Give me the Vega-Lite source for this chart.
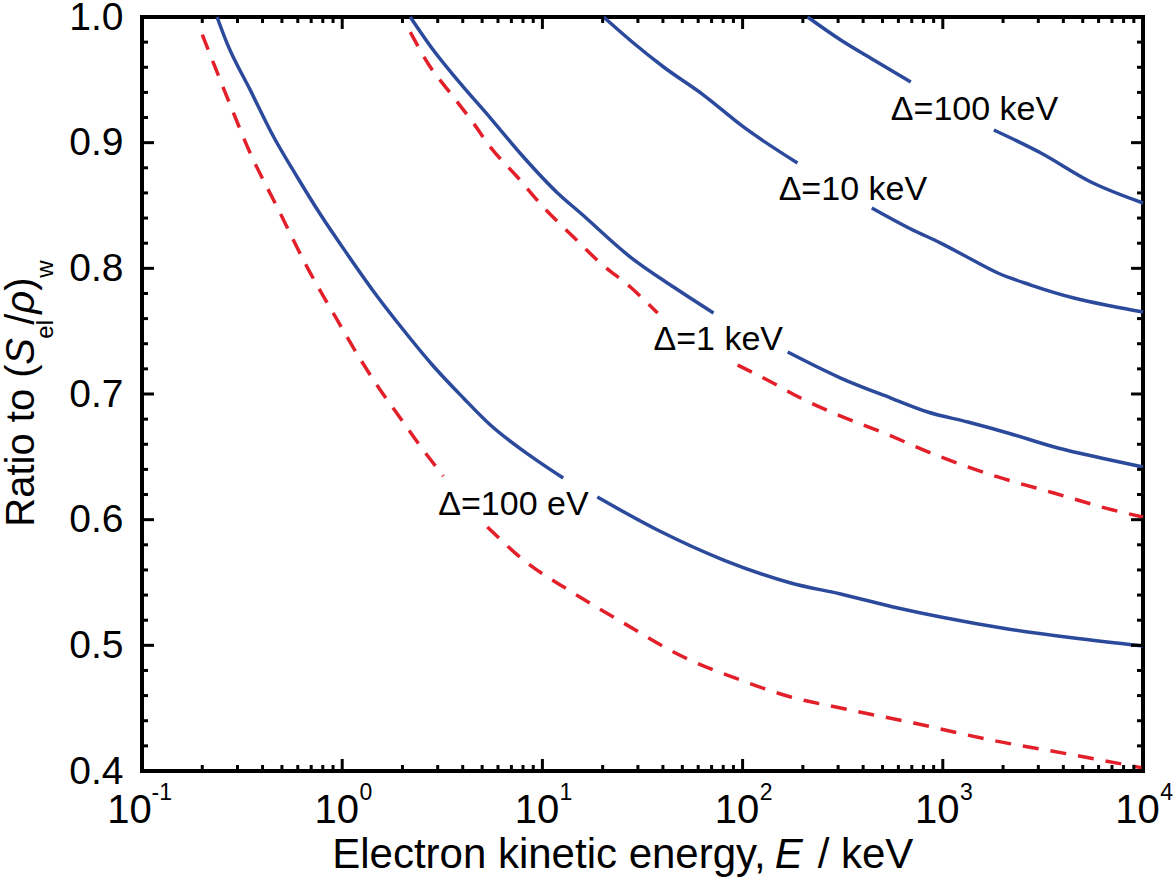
{
  "$schema": "https://vega.github.io/schema/vega-lite/v6.json",
  "width": 1001,
  "height": 754,
  "autosize": {"type": "none"},
  "padding": {"left": 142, "top": 17, "right": 32, "bottom": 108},
  "background": "white",
  "config": {
    "view": {"stroke": "black", "strokeWidth": 4},
    "font": "Liberation Sans",
    "axis": {"grid": false, "domain": false, "ticks": false, "labelColor": "black", "labelFont": "Liberation Sans", "labelOverlap": false, "labelFlush": false}
  },
  "resolve": {"axis": {"x": "independent", "y": "independent"}},
  "datasets": {
    "solid": [
      {"curve": "100 eV", "seg": "a1", "E": 0.237, "R": 1.0},
      {"curve": "100 eV", "seg": "a1", "E": 0.266, "R": 0.979},
      {"curve": "100 eV", "seg": "a1", "E": 0.347, "R": 0.942},
      {"curve": "100 eV", "seg": "a1", "E": 0.452, "R": 0.9053},
      {"curve": "100 eV", "seg": "a1", "E": 0.596, "R": 0.8727},
      {"curve": "100 eV", "seg": "a1", "E": 0.776, "R": 0.8432},
      {"curve": "100 eV", "seg": "a1", "E": 1.059, "R": 0.8114},
      {"curve": "100 eV", "seg": "a1", "E": 1.429, "R": 0.782},
      {"curve": "100 eV", "seg": "a1", "E": 1.95, "R": 0.7541},
      {"curve": "100 eV", "seg": "a1", "E": 2.85, "R": 0.7223},
      {"curve": "100 eV", "seg": "a1", "E": 4.03, "R": 0.6968},
      {"curve": "100 eV", "seg": "a1", "E": 5.5, "R": 0.6753},
      {"curve": "100 eV", "seg": "a1", "E": 8.71, "R": 0.6507},
      {"curve": "100 eV", "seg": "a1", "E": 12.7, "R": 0.6331},
      {"curve": "100 eV", "seg": "a2", "E": 18.8, "R": 0.618},
      {"curve": "100 eV", "seg": "a2", "E": 37.6, "R": 0.5918},
      {"curve": "100 eV", "seg": "a2", "E": 80.4, "R": 0.5679},
      {"curve": "100 eV", "seg": "a2", "E": 174, "R": 0.5496},
      {"curve": "100 eV", "seg": "a2", "E": 309, "R": 0.5408},
      {"curve": "100 eV", "seg": "a2", "E": 596, "R": 0.5297},
      {"curve": "100 eV", "seg": "a2", "E": 977, "R": 0.5225},
      {"curve": "100 eV", "seg": "a2", "E": 2113, "R": 0.513},
      {"curve": "100 eV", "seg": "a2", "E": 4519, "R": 0.5058},
      {"curve": "100 eV", "seg": "a2", "E": 10000, "R": 0.4995},
      {"curve": "1 keV", "seg": "b1", "E": 2.188, "R": 1.0},
      {"curve": "1 keV", "seg": "b1", "E": 2.85, "R": 0.9737},
      {"curve": "1 keV", "seg": "b1", "E": 3.76, "R": 0.9499},
      {"curve": "1 keV", "seg": "b1", "E": 5.5, "R": 0.9196},
      {"curve": "1 keV", "seg": "b1", "E": 8.04, "R": 0.8886},
      {"curve": "1 keV", "seg": "b1", "E": 11.9, "R": 0.86},
      {"curve": "1 keV", "seg": "b1", "E": 15.5, "R": 0.844},
      {"curve": "1 keV", "seg": "b1", "E": 27.5, "R": 0.809},
      {"curve": "1 keV", "seg": "b1", "E": 45.2, "R": 0.7851},
      {"curve": "1 keV", "seg": "b1", "E": 71.6, "R": 0.7644},
      {"curve": "1 keV", "seg": "b2", "E": 168, "R": 0.7334},
      {"curve": "1 keV", "seg": "b2", "E": 309, "R": 0.7127},
      {"curve": "1 keV", "seg": "b2", "E": 550, "R": 0.6968},
      {"curve": "1 keV", "seg": "b2", "E": 841, "R": 0.6857},
      {"curve": "1 keV", "seg": "b2", "E": 1334, "R": 0.6777},
      {"curve": "1 keV", "seg": "b2", "E": 2113, "R": 0.669},
      {"curve": "1 keV", "seg": "b2", "E": 3758, "R": 0.657},
      {"curve": "1 keV", "seg": "b2", "E": 6166, "R": 0.6491},
      {"curve": "1 keV", "seg": "b2", "E": 10000, "R": 0.6419},
      {"curve": "10 keV", "seg": "c1", "E": 20.2, "R": 1.0},
      {"curve": "10 keV", "seg": "c1", "E": 28.5, "R": 0.9793},
      {"curve": "10 keV", "seg": "c1", "E": 40.3, "R": 0.9602},
      {"curve": "10 keV", "seg": "c1", "E": 63.8, "R": 0.9379},
      {"curve": "10 keV", "seg": "c1", "E": 101, "R": 0.9125},
      {"curve": "10 keV", "seg": "c1", "E": 188, "R": 0.8838},
      {"curve": "10 keV", "seg": "c2", "E": 442, "R": 0.848},
      {"curve": "10 keV", "seg": "c2", "E": 692, "R": 0.8313},
      {"curve": "10 keV", "seg": "c2", "E": 977, "R": 0.8201},
      {"curve": "10 keV", "seg": "c2", "E": 1380, "R": 0.8074},
      {"curve": "10 keV", "seg": "c2", "E": 1884, "R": 0.7963},
      {"curve": "10 keV", "seg": "c2", "E": 2754, "R": 0.7867},
      {"curve": "10 keV", "seg": "c2", "E": 4519, "R": 0.7764},
      {"curve": "10 keV", "seg": "c2", "E": 6918, "R": 0.77},
      {"curve": "10 keV", "seg": "c2", "E": 10000, "R": 0.7652},
      {"curve": "100 keV", "seg": "d1", "E": 211, "R": 1.0},
      {"curve": "100 keV", "seg": "d1", "E": 309, "R": 0.9817},
      {"curve": "100 keV", "seg": "d1", "E": 452, "R": 0.9658},
      {"curve": "100 keV", "seg": "d1", "E": 692, "R": 0.9483},
      {"curve": "100 keV", "seg": "d2", "E": 1799, "R": 0.9101},
      {"curve": "100 keV", "seg": "d2", "E": 3090, "R": 0.8918},
      {"curve": "100 keV", "seg": "d2", "E": 5495, "R": 0.8687},
      {"curve": "100 keV", "seg": "d2", "E": 10000, "R": 0.852}
    ],
    "dashed": [
      {"curve": "r", "seg": "r1", "E": 0.2, "R": 0.986},
      {"curve": "r", "seg": "r1", "E": 0.266, "R": 0.9363},
      {"curve": "r", "seg": "r1", "E": 0.347, "R": 0.8918},
      {"curve": "r", "seg": "r1", "E": 0.473, "R": 0.8488},
      {"curve": "r", "seg": "r1", "E": 0.668, "R": 0.801},
      {"curve": "r", "seg": "r1", "E": 0.944, "R": 0.7589},
      {"curve": "r", "seg": "r1", "E": 1.23, "R": 0.7278},
      {"curve": "r", "seg": "r1", "E": 1.549, "R": 0.7032},
      {"curve": "r", "seg": "r1", "E": 1.95, "R": 0.6809},
      {"curve": "r", "seg": "r1", "E": 2.455, "R": 0.6586},
      {"curve": "r", "seg": "r1", "E": 3.2, "R": 0.6347},
      {"curve": "r", "seg": "r2", "E": 5.31, "R": 0.5942},
      {"curve": "r", "seg": "r2", "E": 8.04, "R": 0.5679},
      {"curve": "r", "seg": "r2", "E": 14.3, "R": 0.5416},
      {"curve": "r", "seg": "r2", "E": 25.4, "R": 0.5178},
      {"curve": "r", "seg": "r2", "E": 50.7, "R": 0.4907},
      {"curve": "r", "seg": "r2", "E": 97.7, "R": 0.4724},
      {"curve": "r", "seg": "r2", "E": 174, "R": 0.4589},
      {"curve": "r", "seg": "r2", "E": 309, "R": 0.4501},
      {"curve": "r", "seg": "r2", "E": 716, "R": 0.4382},
      {"curve": "r", "seg": "r2", "E": 1738, "R": 0.4247},
      {"curve": "r", "seg": "r2", "E": 4519, "R": 0.4127},
      {"curve": "r", "seg": "r2", "E": 10000, "R": 0.4024},
      {"curve": "s", "seg": "s1", "E": 2.188, "R": 0.988},
      {"curve": "s", "seg": "s1", "E": 2.754, "R": 0.9602},
      {"curve": "s", "seg": "s1", "E": 3.467, "R": 0.9395},
      {"curve": "s", "seg": "s1", "E": 4.52, "R": 0.9156},
      {"curve": "s", "seg": "s1", "E": 5.5, "R": 0.8965},
      {"curve": "s", "seg": "s1", "E": 7.5, "R": 0.8727},
      {"curve": "s", "seg": "s1", "E": 10.1, "R": 0.8488},
      {"curve": "s", "seg": "s1", "E": 14.3, "R": 0.8249},
      {"curve": "s", "seg": "s1", "E": 19.5, "R": 0.8042},
      {"curve": "s", "seg": "s1", "E": 27.5, "R": 0.7851},
      {"curve": "s", "seg": "s1", "E": 37.6, "R": 0.7644},
      {"curve": "s", "seg": "s2", "E": 94.4, "R": 0.7231},
      {"curve": "s", "seg": "s2", "E": 133, "R": 0.7111},
      {"curve": "s", "seg": "s2", "E": 195, "R": 0.6968},
      {"curve": "s", "seg": "s2", "E": 298, "R": 0.6835},
      {"curve": "s", "seg": "s2", "E": 507, "R": 0.669},
      {"curve": "s", "seg": "s2", "E": 977, "R": 0.6499},
      {"curve": "s", "seg": "s2", "E": 1884, "R": 0.634},
      {"curve": "s", "seg": "s2", "E": 3589, "R": 0.6212},
      {"curve": "s", "seg": "s2", "E": 7079, "R": 0.6077},
      {"curve": "s", "seg": "s2", "E": 10000, "R": 0.6021}
    ],
    "labels": [
      {"E": 550, "R": 0.918, "label": "Δ=100 keV"},
      {"E": 151.4, "R": 0.8544, "label": "Δ=10 keV"},
      {"E": 35.9, "R": 0.735, "label": "Δ=1 keV"},
      {"E": 3.02, "R": 0.6037, "label": "Δ=100 eV"}
    ],
    "exps": [
      {"E": 0.1, "exp": "-1"},
      {"E": 1, "exp": "0"},
      {"E": 10, "exp": "1"},
      {"E": 100, "exp": "2"},
      {"E": 1000, "exp": "3"},
      {"E": 10000, "exp": "4"}
    ],
    "xt": [
      {"v": 0.1, "kind": "major"}, {"v": 1, "kind": "major"}, {"v": 10, "kind": "major"}, {"v": 100, "kind": "major"}, {"v": 1000, "kind": "major"}, {"v": 10000, "kind": "major"},
      {"v": 0.2, "kind": "minor"}, {"v": 0.3, "kind": "minor"}, {"v": 0.4, "kind": "minor"}, {"v": 0.5, "kind": "minor"}, {"v": 0.6, "kind": "minor"}, {"v": 0.7, "kind": "minor"}, {"v": 0.8, "kind": "minor"}, {"v": 0.9, "kind": "minor"},
      {"v": 2, "kind": "minor"}, {"v": 3, "kind": "minor"}, {"v": 4, "kind": "minor"}, {"v": 5, "kind": "minor"}, {"v": 6, "kind": "minor"}, {"v": 7, "kind": "minor"}, {"v": 8, "kind": "minor"}, {"v": 9, "kind": "minor"},
      {"v": 20, "kind": "minor"}, {"v": 30, "kind": "minor"}, {"v": 40, "kind": "minor"}, {"v": 50, "kind": "minor"}, {"v": 60, "kind": "minor"}, {"v": 70, "kind": "minor"}, {"v": 80, "kind": "minor"}, {"v": 90, "kind": "minor"},
      {"v": 200, "kind": "minor"}, {"v": 300, "kind": "minor"}, {"v": 400, "kind": "minor"}, {"v": 500, "kind": "minor"}, {"v": 600, "kind": "minor"}, {"v": 700, "kind": "minor"}, {"v": 800, "kind": "minor"}, {"v": 900, "kind": "minor"},
      {"v": 2000, "kind": "minor"}, {"v": 3000, "kind": "minor"}, {"v": 4000, "kind": "minor"}, {"v": 5000, "kind": "minor"}, {"v": 6000, "kind": "minor"}, {"v": 7000, "kind": "minor"}, {"v": 8000, "kind": "minor"}, {"v": 9000, "kind": "minor"}
    ],
    "yt": [
      {"v": 0.4, "kind": "major"}, {"v": 0.5, "kind": "major"}, {"v": 0.6, "kind": "major"}, {"v": 0.7, "kind": "major"}, {"v": 0.8, "kind": "major"}, {"v": 0.9, "kind": "major"}, {"v": 1.0, "kind": "major"},
      {"v": 0.42, "kind": "minor"}, {"v": 0.44, "kind": "minor"}, {"v": 0.46, "kind": "minor"}, {"v": 0.48, "kind": "minor"},
      {"v": 0.52, "kind": "minor"}, {"v": 0.54, "kind": "minor"}, {"v": 0.56, "kind": "minor"}, {"v": 0.58, "kind": "minor"},
      {"v": 0.62, "kind": "minor"}, {"v": 0.64, "kind": "minor"}, {"v": 0.66, "kind": "minor"}, {"v": 0.68, "kind": "minor"},
      {"v": 0.72, "kind": "minor"}, {"v": 0.74, "kind": "minor"}, {"v": 0.76, "kind": "minor"}, {"v": 0.78, "kind": "minor"},
      {"v": 0.82, "kind": "minor"}, {"v": 0.84, "kind": "minor"}, {"v": 0.86, "kind": "minor"}, {"v": 0.88, "kind": "minor"},
      {"v": 0.92, "kind": "minor"}, {"v": 0.94, "kind": "minor"}, {"v": 0.96, "kind": "minor"}, {"v": 0.98, "kind": "minor"}
    ],
    "one": [{"k": 0}]
  },
  "layer": [
    {
      "data": {"name": "solid"},
      "mark": {"type": "line", "color": "#2C4A9C", "strokeWidth": 3.5, "interpolate": "monotone"},
      "encoding": {
        "x": {"field": "E", "type": "quantitative", "scale": {"type": "log", "domain": [0.1, 10000], "nice": false},
          "axis": {"orient": "bottom", "values": [0.1, 1, 10, 100, 1000, 10000], "labelExpr": "'10'", "labelFontSize": 40, "labelPadding": 19, "labelOffset": {"condition": {"test": "datum.value < 0.5", "value": -13}, "value": -6}, "title": null}},
        "y": {"field": "R", "type": "quantitative", "scale": {"domain": [0.4, 1.0], "nice": false, "zero": false},
          "axis": {"orient": "left", "values": [0.4, 0.5, 0.6, 0.7, 0.8, 0.9, 1.0], "labelFontSize": 39, "labelPadding": 19, "format": ".1f", "title": null}},
        "detail": {"field": "seg"}
      }
    },
    {
      "data": {"name": "dashed"},
      "mark": {"type": "line", "color": "#E3202A", "strokeWidth": 3.5, "strokeDash": [16, 12], "interpolate": "monotone"},
      "encoding": {
        "x": {"field": "E", "type": "quantitative", "scale": {"type": "log", "domain": [0.1, 10000], "nice": false}, "axis": null},
        "y": {"field": "R", "type": "quantitative", "scale": {"domain": [0.4, 1.0], "nice": false, "zero": false}, "axis": null},
        "detail": {"field": "seg"}
      }
    },
    {
      "data": {"name": "xt"},
      "transform": [{"filter": "datum.kind === 'major'"}],
      "mark": {"type": "rule", "color": "black", "strokeWidth": 3, "y2Offset": -12},
      "encoding": {
        "x": {"field": "v", "type": "quantitative", "scale": {"type": "log", "domain": [0.1, 10000], "nice": false}, "axis": null},
        "y": {"datum": 0.4, "type": "quantitative", "axis": null},
        "y2": {"datum": 0.4}
      }
    },
    {
      "data": {"name": "xt"},
      "transform": [{"filter": "datum.kind === 'major'"}],
      "mark": {"type": "rule", "color": "black", "strokeWidth": 3, "y2Offset": 12},
      "encoding": {
        "x": {"field": "v", "type": "quantitative", "scale": {"type": "log", "domain": [0.1, 10000], "nice": false}, "axis": null},
        "y": {"datum": 1.0, "type": "quantitative", "axis": null},
        "y2": {"datum": 1.0}
      }
    },
    {
      "data": {"name": "xt"},
      "transform": [{"filter": "datum.kind === 'minor'"}],
      "mark": {"type": "rule", "color": "black", "strokeWidth": 3, "y2Offset": -6},
      "encoding": {
        "x": {"field": "v", "type": "quantitative", "scale": {"type": "log", "domain": [0.1, 10000], "nice": false}, "axis": null},
        "y": {"datum": 0.4, "type": "quantitative", "axis": null},
        "y2": {"datum": 0.4}
      }
    },
    {
      "data": {"name": "xt"},
      "transform": [{"filter": "datum.kind === 'minor'"}],
      "mark": {"type": "rule", "color": "black", "strokeWidth": 3, "y2Offset": 6},
      "encoding": {
        "x": {"field": "v", "type": "quantitative", "scale": {"type": "log", "domain": [0.1, 10000], "nice": false}, "axis": null},
        "y": {"datum": 1.0, "type": "quantitative", "axis": null},
        "y2": {"datum": 1.0}
      }
    },
    {
      "data": {"name": "yt"},
      "transform": [{"filter": "datum.kind === 'major'"}],
      "mark": {"type": "rule", "color": "black", "strokeWidth": 3, "x2Offset": 12},
      "encoding": {
        "y": {"field": "v", "type": "quantitative", "scale": {"domain": [0.4, 1.0], "nice": false, "zero": false}, "axis": null},
        "x": {"datum": 0.1, "type": "quantitative", "axis": null},
        "x2": {"datum": 0.1}
      }
    },
    {
      "data": {"name": "yt"},
      "transform": [{"filter": "datum.kind === 'major'"}],
      "mark": {"type": "rule", "color": "black", "strokeWidth": 3, "x2Offset": -12},
      "encoding": {
        "y": {"field": "v", "type": "quantitative", "scale": {"domain": [0.4, 1.0], "nice": false, "zero": false}, "axis": null},
        "x": {"datum": 10000, "type": "quantitative", "axis": null},
        "x2": {"datum": 10000}
      }
    },
    {
      "data": {"name": "yt"},
      "transform": [{"filter": "datum.kind === 'minor'"}],
      "mark": {"type": "rule", "color": "black", "strokeWidth": 3, "x2Offset": 6},
      "encoding": {
        "y": {"field": "v", "type": "quantitative", "scale": {"domain": [0.4, 1.0], "nice": false, "zero": false}, "axis": null},
        "x": {"datum": 0.1, "type": "quantitative", "axis": null},
        "x2": {"datum": 0.1}
      }
    },
    {
      "data": {"name": "yt"},
      "transform": [{"filter": "datum.kind === 'minor'"}],
      "mark": {"type": "rule", "color": "black", "strokeWidth": 3, "x2Offset": -6},
      "encoding": {
        "y": {"field": "v", "type": "quantitative", "scale": {"domain": [0.4, 1.0], "nice": false, "zero": false}, "axis": null},
        "x": {"datum": 10000, "type": "quantitative", "axis": null},
        "x2": {"datum": 10000}
      }
    },
    {
      "data": {"name": "labels"},
      "mark": {"type": "text", "align": "left", "baseline": "alphabetic", "fontSize": 34, "color": "black", "font": "Liberation Sans"},
      "encoding": {
        "x": {"field": "E", "type": "quantitative", "scale": {"type": "log", "domain": [0.1, 10000], "nice": false}, "axis": null},
        "y": {"field": "R", "type": "quantitative", "scale": {"domain": [0.4, 1.0], "nice": false, "zero": false}, "axis": null},
        "text": {"field": "label"}
      }
    },
    {
      "data": {"name": "exps"},
      "mark": {"type": "text", "align": "right", "baseline": "alphabetic", "fontSize": 23, "dx": 30, "dy": 29, "color": "black", "font": "Liberation Sans"},
      "encoding": {
        "x": {"field": "E", "type": "quantitative", "scale": {"type": "log", "domain": [0.1, 10000], "nice": false}, "axis": null},
        "y": {"datum": 0.4, "type": "quantitative", "axis": null},
        "text": {"field": "exp"}
      }
    },
    {
      "data": {"name": "one"},
      "mark": {"type": "text", "text": "Electron kinetic energy,", "align": "right", "baseline": "alphabetic", "fontSize": 42, "dx": -11, "dy": 97, "color": "black", "font": "Liberation Sans"},
      "encoding": {"x": {"datum": 147.9, "type": "quantitative", "axis": null}, "y": {"datum": 0.4, "type": "quantitative", "axis": null}}
    },
    {
      "data": {"name": "one"},
      "mark": {"type": "text", "text": "E", "align": "left", "baseline": "alphabetic", "fontSize": 42, "fontStyle": "italic", "dx": -2, "dy": 97, "color": "black", "font": "Liberation Sans"},
      "encoding": {"x": {"datum": 147.9, "type": "quantitative", "axis": null}, "y": {"datum": 0.4, "type": "quantitative", "axis": null}}
    },
    {
      "data": {"name": "one"},
      "mark": {"type": "text", "text": "/ keV", "align": "left", "baseline": "alphabetic", "fontSize": 42, "dx": 41, "dy": 97, "color": "black", "font": "Liberation Sans"},
      "encoding": {"x": {"datum": 147.9, "type": "quantitative", "axis": null}, "y": {"datum": 0.4, "type": "quantitative", "axis": null}}
    },
    {
      "data": {"name": "one"},
      "mark": {"type": "text", "text": "Ratio to (", "angle": 270, "align": "left", "baseline": "alphabetic", "fontSize": 40, "dx": -7, "dy": -108, "color": "black", "font": "Liberation Sans"},
      "encoding": {"x": {"datum": 0.1, "type": "quantitative", "axis": null}, "y": {"datum": 0.6, "type": "quantitative", "axis": null}}
    },
    {
      "data": {"name": "one"},
      "mark": {"type": "text", "text": "S", "angle": 270, "align": "left", "baseline": "alphabetic", "fontSize": 40, "fontStyle": "italic", "dx": 155, "dy": -108, "color": "black", "font": "Liberation Sans"},
      "encoding": {"x": {"datum": 0.1, "type": "quantitative", "axis": null}, "y": {"datum": 0.6, "type": "quantitative", "axis": null}}
    },
    {
      "data": {"name": "one"},
      "mark": {"type": "text", "text": "el", "angle": 270, "align": "left", "baseline": "alphabetic", "fontSize": 24, "dx": 181, "dy": -89, "color": "black", "font": "Liberation Sans"},
      "encoding": {"x": {"datum": 0.1, "type": "quantitative", "axis": null}, "y": {"datum": 0.6, "type": "quantitative", "axis": null}}
    },
    {
      "data": {"name": "one"},
      "mark": {"type": "text", "text": "/", "angle": 270, "align": "left", "baseline": "alphabetic", "fontSize": 40, "dx": 195, "dy": -108, "color": "black", "font": "Liberation Sans"},
      "encoding": {"x": {"datum": 0.1, "type": "quantitative", "axis": null}, "y": {"datum": 0.6, "type": "quantitative", "axis": null}}
    },
    {
      "data": {"name": "one"},
      "mark": {"type": "text", "text": "ρ", "angle": 270, "align": "left", "baseline": "alphabetic", "fontSize": 40, "fontStyle": "italic", "dx": 206, "dy": -108, "color": "black", "font": "Liberation Sans"},
      "encoding": {"x": {"datum": 0.1, "type": "quantitative", "axis": null}, "y": {"datum": 0.6, "type": "quantitative", "axis": null}}
    },
    {
      "data": {"name": "one"},
      "mark": {"type": "text", "text": ")", "angle": 270, "align": "left", "baseline": "alphabetic", "fontSize": 40, "dx": 229, "dy": -108, "color": "black", "font": "Liberation Sans"},
      "encoding": {"x": {"datum": 0.1, "type": "quantitative", "axis": null}, "y": {"datum": 0.6, "type": "quantitative", "axis": null}}
    },
    {
      "data": {"name": "one"},
      "mark": {"type": "text", "text": "w", "angle": 270, "align": "left", "baseline": "alphabetic", "fontSize": 24, "dx": 242, "dy": -89, "color": "black", "font": "Liberation Sans"},
      "encoding": {"x": {"datum": 0.1, "type": "quantitative", "axis": null}, "y": {"datum": 0.6, "type": "quantitative", "axis": null}}
    }
  ]
}
